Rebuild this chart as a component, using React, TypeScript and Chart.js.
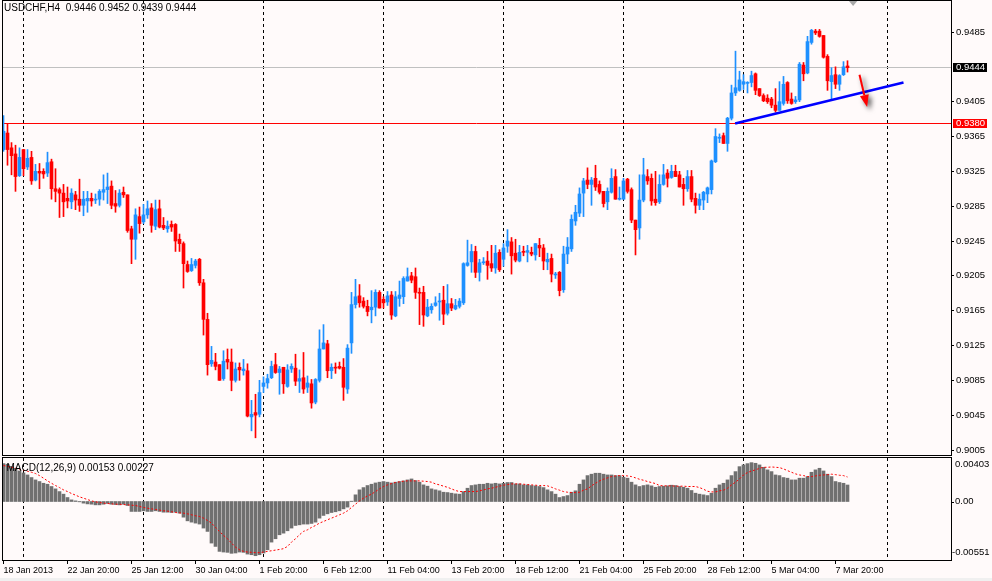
import React, { useEffect, useRef } from 'react';
import { Chart, registerables } from 'chart.js';

Chart.register(...registerables);

// ---------- data ----------
const SYMBOL = 'USDCHF';
const PERIOD = 'H4';

const opens = [
  0.9350, 0.9369, 0.9352, 0.9345, 0.9320, 0.9350, 0.9330, 0.9341, 0.9315, 0.9325,
  0.9325, 0.9323, 0.9336, 0.9305, 0.9304, 0.9300, 0.9294, 0.9290, 0.9298, 0.9293,
  0.9286, 0.9291, 0.9294, 0.9292, 0.9293, 0.9301, 0.9304, 0.9308, 0.9288, 0.9286,
  0.9301, 0.9298, 0.9259, 0.9247, 0.9273, 0.9267, 0.9275, 0.9283, 0.9262, 0.9282,
  0.9263, 0.9259, 0.9264, 0.9264, 0.9247, 0.9242, 0.9218, 0.9211, 0.9217, 0.9224,
  0.9197, 0.9155, 0.9104, 0.9106, 0.9103, 0.9087, 0.9109, 0.9106, 0.9085, 0.9100,
  0.9096, 0.9096, 0.9043, 0.9048, 0.9046, 0.9078, 0.9082, 0.9088, 0.9103, 0.9094,
  0.9100, 0.9078, 0.9098, 0.9099, 0.9084, 0.9088, 0.9077, 0.9081, 0.9060, 0.9085,
  0.9121, 0.9127, 0.9096, 0.9100, 0.9101, 0.9100, 0.9075, 0.9128, 0.9172, 0.9182,
  0.9176, 0.9170, 0.9166, 0.9169, 0.9186, 0.9178, 0.9175, 0.9183, 0.9159, 0.9179,
  0.9181, 0.9199, 0.9205, 0.9204, 0.9186, 0.9186, 0.9159, 0.9166, 0.9171, 0.9175,
  0.9177, 0.9162, 0.9173, 0.9167, 0.9170, 0.9174, 0.9217, 0.9221, 0.9233, 0.9209,
  0.9220, 0.9222, 0.9219, 0.9214, 0.9232, 0.9224, 0.9239, 0.9244, 0.9231, 0.9222,
  0.9233, 0.9232, 0.9232, 0.9229, 0.9240, 0.9237, 0.9221, 0.9225, 0.9206, 0.9209,
  0.9189, 0.9230, 0.9236, 0.9268, 0.9277, 0.9300, 0.9315, 0.9310, 0.9317, 0.9310,
  0.9302, 0.9290, 0.9301, 0.9319, 0.9293, 0.9293, 0.9316, 0.9304, 0.9269, 0.9260,
  0.9292, 0.9319, 0.9317, 0.9293, 0.9290, 0.9310, 0.9323, 0.9318, 0.9325, 0.9321,
  0.9310, 0.9305, 0.9319, 0.9294, 0.9286, 0.9292, 0.9299, 0.9304, 0.9336, 0.9363,
  0.9366, 0.9357, 0.9386, 0.9415, 0.9418, 0.9425, 0.9426, 0.9427, 0.9437, 0.9420,
  0.9412, 0.9409, 0.9408, 0.9401, 0.9395, 0.9403, 0.9427, 0.9408, 0.9405, 0.9407,
  0.9447, 0.9438, 0.9473, 0.9486, 0.9486, 0.9481, 0.9457, 0.9428, 0.9436, 0.9425,
  0.9436, 0.9446,
];

const highs = [
  0.9389, 0.9380, 0.9358, 0.9355, 0.9352, 0.9350, 0.9350, 0.9348, 0.9333, 0.9334,
  0.9328, 0.9347, 0.9339, 0.9328, 0.9306, 0.9310, 0.9307, 0.9305, 0.9302, 0.9316,
  0.9302, 0.9302, 0.9300, 0.9299, 0.9304, 0.9321, 0.9323, 0.9314, 0.9303, 0.9304,
  0.9307, 0.9298, 0.9262, 0.9282, 0.9284, 0.9287, 0.9291, 0.9288, 0.9292, 0.9292,
  0.9272, 0.9268, 0.9268, 0.9265, 0.9253, 0.9244, 0.9222, 0.9225, 0.9224, 0.9225,
  0.9201, 0.9162, 0.9124, 0.9116, 0.9103, 0.9119, 0.9121, 0.9121, 0.9105, 0.9105,
  0.9109, 0.9104, 0.9062, 0.9069, 0.9085, 0.9089, 0.9092, 0.9107, 0.9116, 0.9101,
  0.9100, 0.9103, 0.9104, 0.9115, 0.9097, 0.9117, 0.9090, 0.9086, 0.9087, 0.9143,
  0.9149, 0.9131, 0.9104, 0.9105, 0.9106, 0.9110, 0.9126, 0.9186, 0.9201, 0.9195,
  0.9180, 0.9177, 0.9188, 0.9189, 0.9188, 0.9181, 0.9187, 0.9187, 0.9187, 0.9199,
  0.9204, 0.9214, 0.9209, 0.9214, 0.9191, 0.9193, 0.9178, 0.9173, 0.9181, 0.9185,
  0.9193, 0.9195, 0.9179, 0.9178, 0.9179, 0.9220, 0.9246, 0.9241, 0.9239, 0.9224,
  0.9226, 0.9233, 0.9240, 0.9240, 0.9235, 0.9242, 0.9258, 0.9249, 0.9247, 0.9240,
  0.9239, 0.9240, 0.9238, 0.9242, 0.9248, 0.9241, 0.9231, 0.9230, 0.9209, 0.9210,
  0.9239, 0.9249, 0.9275, 0.9286, 0.9306, 0.9317, 0.9329, 0.9318, 0.9332, 0.9314,
  0.9302, 0.9306, 0.9328, 0.9327, 0.9307, 0.9317, 0.9317, 0.9306, 0.9269, 0.9321,
  0.9340, 0.9327, 0.9322, 0.9325, 0.9321, 0.9333, 0.9327, 0.9332, 0.9332, 0.9325,
  0.9317, 0.9326, 0.9326, 0.9300, 0.9299, 0.9302, 0.9307, 0.9338, 0.9374, 0.9368,
  0.9369, 0.9387, 0.9424, 0.9463, 0.9440, 0.9436, 0.9428, 0.9440, 0.9438, 0.9420,
  0.9414, 0.9413, 0.9410, 0.9420, 0.9428, 0.9434, 0.9428, 0.9415, 0.9411, 0.9450,
  0.9450, 0.9480, 0.9488, 0.9488, 0.9488, 0.9481, 0.9459, 0.9444, 0.9445, 0.9436,
  0.9451, 0.9452,
];

const lows = [
  0.9348, 0.9332, 0.9321, 0.9302, 0.9319, 0.9320, 0.9327, 0.9310, 0.9314, 0.9305,
  0.9317, 0.9319, 0.9293, 0.9290, 0.9272, 0.9273, 0.9283, 0.9282, 0.9281, 0.9279,
  0.9274, 0.9278, 0.9285, 0.9288, 0.9286, 0.9292, 0.9288, 0.9282, 0.9278, 0.9284,
  0.9295, 0.9255, 0.9219, 0.9224, 0.9254, 0.9265, 0.9271, 0.9255, 0.9258, 0.9260,
  0.9258, 0.9255, 0.9256, 0.9233, 0.9233, 0.9191, 0.9209, 0.9210, 0.9214, 0.9194,
  0.9137, 0.9091, 0.9101, 0.9097, 0.9085, 0.9085, 0.9098, 0.9073, 0.9083, 0.9085,
  0.9091, 0.9043, 0.9027, 0.9019, 0.9043, 0.9071, 0.9076, 0.9087, 0.9093, 0.9069,
  0.9070, 0.9077, 0.9094, 0.9079, 0.9071, 0.9070, 0.9071, 0.9053, 0.9058, 0.9083,
  0.9121, 0.9088, 0.9087, 0.9093, 0.9098, 0.9062, 0.9070, 0.9116, 0.9168, 0.9169,
  0.9168, 0.9159, 0.9151, 0.9159, 0.9168, 0.9168, 0.9171, 0.9155, 0.9158, 0.9170,
  0.9173, 0.9199, 0.9197, 0.9179, 0.9149, 0.9147, 0.9158, 0.9162, 0.9170, 0.9154,
  0.9149, 0.9160, 0.9165, 0.9166, 0.9168, 0.9172, 0.9216, 0.9209, 0.9203, 0.9199,
  0.9218, 0.9201, 0.9210, 0.9208, 0.9210, 0.9216, 0.9232, 0.9207, 0.9221, 0.9221,
  0.9228, 0.9221, 0.9228, 0.9223, 0.9227, 0.9212, 0.9212, 0.9198, 0.9202, 0.9182,
  0.9186, 0.9219, 0.9233, 0.9263, 0.9273, 0.9273, 0.9305, 0.9286, 0.9303, 0.9299,
  0.9284, 0.9281, 0.9300, 0.9293, 0.9292, 0.9293, 0.9300, 0.9266, 0.9229, 0.9247,
  0.9290, 0.9310, 0.9286, 0.9286, 0.9288, 0.9309, 0.9307, 0.9317, 0.9319, 0.9307,
  0.9286, 0.9302, 0.9290, 0.9277, 0.9281, 0.9281, 0.9289, 0.9299, 0.9335, 0.9358,
  0.9357, 0.9348, 0.9384, 0.9412, 0.9417, 0.9419, 0.9415, 0.9422, 0.9413, 0.9411,
  0.9405, 0.9403, 0.9398, 0.9393, 0.9395, 0.9401, 0.9403, 0.9402, 0.9403, 0.9405,
  0.9429, 0.9437, 0.9471, 0.9482, 0.9479, 0.9455, 0.9418, 0.9407, 0.9420, 0.9418,
  0.9435, 0.9439,
];

const closes = [
  0.9371, 0.9350, 0.9343, 0.9319, 0.9341, 0.9328, 0.9340, 0.9314, 0.9325, 0.9323,
  0.9322, 0.9335, 0.9305, 0.9302, 0.9300, 0.9290, 0.9291, 0.9300, 0.9292, 0.9286,
  0.9293, 0.9294, 0.9291, 0.9293, 0.9302, 0.9304, 0.9307, 0.9286, 0.9285, 0.9300,
  0.9298, 0.9257, 0.9247, 0.9275, 0.9265, 0.9275, 0.9282, 0.9263, 0.9281, 0.9261,
  0.9260, 0.9262, 0.9261, 0.9245, 0.9242, 0.9219, 0.9210, 0.9218, 0.9222, 0.9197,
  0.9155, 0.9103, 0.9108, 0.9101, 0.9085, 0.9107, 0.9106, 0.9085, 0.9098, 0.9097,
  0.9098, 0.9044, 0.9046, 0.9045, 0.9071, 0.9082, 0.9087, 0.9101, 0.9094, 0.9098,
  0.9081, 0.9097, 0.9101, 0.9084, 0.9087, 0.9075, 0.9082, 0.9059, 0.9086, 0.9121,
  0.9128, 0.9096, 0.9100, 0.9099, 0.9099, 0.9077, 0.9122, 0.9172, 0.9181, 0.9174,
  0.9170, 0.9164, 0.9169, 0.9186, 0.9168, 0.9174, 0.9182, 0.9160, 0.9181, 0.9183,
  0.9202, 0.9204, 0.9200, 0.9186, 0.9185, 0.9160, 0.9169, 0.9170, 0.9174, 0.9176,
  0.9161, 0.9173, 0.9168, 0.9171, 0.9176, 0.9219, 0.9220, 0.9233, 0.9209, 0.9220,
  0.9221, 0.9217, 0.9214, 0.9231, 0.9212, 0.9237, 0.9245, 0.9228, 0.9223, 0.9232,
  0.9232, 0.9234, 0.9230, 0.9242, 0.9237, 0.9222, 0.9224, 0.9207, 0.9207, 0.9188,
  0.9230, 0.9238, 0.9270, 0.9278, 0.9299, 0.9314, 0.9310, 0.9315, 0.9307, 0.9301,
  0.9288, 0.9302, 0.9317, 0.9293, 0.9294, 0.9314, 0.9302, 0.9269, 0.9258, 0.9292,
  0.9321, 0.9314, 0.9291, 0.9289, 0.9310, 0.9321, 0.9317, 0.9325, 0.9319, 0.9307,
  0.9305, 0.9319, 0.9293, 0.9286, 0.9293, 0.9301, 0.9306, 0.9337, 0.9365, 0.9364,
  0.9357, 0.9386, 0.9415, 0.9421, 0.9430, 0.9428, 0.9427, 0.9435, 0.9418, 0.9412,
  0.9406, 0.9405, 0.9401, 0.9395, 0.9405, 0.9425, 0.9406, 0.9403, 0.9407, 0.9448,
  0.9437, 0.9474, 0.9487, 0.9484, 0.9480, 0.9456, 0.9429, 0.9435, 0.9425, 0.9435,
  0.9445, 0.9444,
];

const macdHist = [
  0.00351, 0.00345, 0.00326, 0.00308, 0.00283, 0.00265, 0.00246, 0.00222, 0.00200, 0.00185,
  0.00169, 0.00160, 0.00139, 0.00117, 0.00092, 0.00068, 0.00037, 0.00015, 0.00006, -0.00003,
  -0.00015, -0.00022, -0.00025, -0.00031, -0.00031, -0.00025, -0.00018, -0.00025, -0.00028, -0.00031,
  -0.00025, -0.00037, -0.00092, -0.00092, -0.00092, -0.00086, -0.00092, -0.00092, -0.00086, -0.00092,
  -0.00099, -0.00099, -0.00102, -0.00099, -0.00108, -0.00145, -0.00179, -0.00191, -0.00200, -0.00209,
  -0.00246, -0.00277, -0.00385, -0.00416, -0.00462, -0.00468, -0.00471, -0.00480, -0.00477, -0.00468,
  -0.00471, -0.00487, -0.00493, -0.00502, -0.00493, -0.00477, -0.00447, -0.00376, -0.00345, -0.00308,
  -0.00293, -0.00271, -0.00246, -0.00222, -0.00216, -0.00209, -0.00209, -0.00203, -0.00191, -0.00154,
  -0.00129, -0.00114, -0.00102, -0.00095, -0.00086, -0.00068, -0.00052, 0.00003, 0.00062, 0.00108,
  0.00129, 0.00148, 0.00160, 0.00172, 0.00179, 0.00185, 0.00179, 0.00172, 0.00179, 0.00185,
  0.00191, 0.00200, 0.00209, 0.00194, 0.00179, 0.00154, 0.00142, 0.00117, 0.00108, 0.00099,
  0.00086, 0.00083, 0.00077, 0.00071, 0.00068, 0.00092, 0.00123, 0.00148, 0.00154, 0.00160,
  0.00160, 0.00169, 0.00163, 0.00169, 0.00163, 0.00169, 0.00176, 0.00176, 0.00163, 0.00163,
  0.00154, 0.00154, 0.00148, 0.00145, 0.00139, 0.00129, 0.00108, 0.00092, 0.00068, 0.00037,
  0.00046, 0.00055, 0.00086, 0.00099, 0.00160, 0.00200, 0.00240, 0.00253, 0.00262, 0.00262,
  0.00253, 0.00246, 0.00246, 0.00240, 0.00240, 0.00225, 0.00216, 0.00179, 0.00154, 0.00139,
  0.00148, 0.00154, 0.00145, 0.00132, 0.00139, 0.00142, 0.00145, 0.00151, 0.00148, 0.00139,
  0.00132, 0.00123, 0.00102, 0.00077, 0.00068, 0.00062, 0.00055, 0.00077, 0.00123, 0.00154,
  0.00169, 0.00200, 0.00240, 0.00277, 0.00323, 0.00339, 0.00351, 0.00360, 0.00354, 0.00339,
  0.00317, 0.00293, 0.00277, 0.00246, 0.00240, 0.00222, 0.00216, 0.00200, 0.00200, 0.00216,
  0.00216, 0.00231, 0.00271, 0.00293, 0.00308, 0.00283, 0.00253, 0.00231, 0.00185, 0.00176,
  0.00169, 0.00153,
];

const macdSignal = [
  0.00333, 0.00326, 0.00317, 0.00308, 0.00299, 0.00290, 0.00280, 0.00271, 0.00259, 0.00240,
  0.00216, 0.00191, 0.00169, 0.00148, 0.00129, 0.00108, 0.00092, 0.00074, 0.00059, 0.00043,
  0.00031, 0.00018, 0.00006, -0.00003, -0.00009, -0.00015, -0.00018, -0.00022, -0.00025, -0.00025,
  -0.00028, -0.00031, -0.00034, -0.00037, -0.00046, -0.00055, -0.00062, -0.00068, -0.00074, -0.00080,
  -0.00086, -0.00089, -0.00095, -0.00102, -0.00105, -0.00108, -0.00114, -0.00123, -0.00132, -0.00139,
  -0.00154, -0.00176, -0.00200, -0.00240, -0.00277, -0.00314, -0.00345, -0.00385, -0.00422, -0.00447,
  -0.00462, -0.00468, -0.00471, -0.00474, -0.00474, -0.00468, -0.00462, -0.00456, -0.00450, -0.00444,
  -0.00437, -0.00416, -0.00376, -0.00345, -0.00308, -0.00277, -0.00262, -0.00240, -0.00222, -0.00200,
  -0.00185, -0.00169, -0.00154, -0.00139, -0.00123, -0.00108, -0.00086, -0.00055, -0.00025, 0.00006,
  0.00031, 0.00052, 0.00068, 0.00092, 0.00117, 0.00139, 0.00154, 0.00166, 0.00176, 0.00182,
  0.00188, 0.00191, 0.00191, 0.00191, 0.00191, 0.00188, 0.00185, 0.00179, 0.00163, 0.00154,
  0.00142, 0.00132, 0.00117, 0.00102, 0.00092, 0.00092, 0.00092, 0.00092, 0.00092, 0.00099,
  0.00108, 0.00117, 0.00123, 0.00132, 0.00142, 0.00151, 0.00157, 0.00163, 0.00163, 0.00163,
  0.00160, 0.00157, 0.00154, 0.00151, 0.00148, 0.00148, 0.00145, 0.00132, 0.00117, 0.00105,
  0.00092, 0.00086, 0.00083, 0.00083, 0.00086, 0.00105, 0.00117, 0.00145, 0.00169, 0.00191,
  0.00206, 0.00219, 0.00231, 0.00237, 0.00240, 0.00240, 0.00237, 0.00231, 0.00219, 0.00206,
  0.00197, 0.00185, 0.00176, 0.00166, 0.00148, 0.00145, 0.00145, 0.00145, 0.00142, 0.00142,
  0.00142, 0.00139, 0.00139, 0.00139, 0.00129, 0.00114, 0.00095, 0.00089, 0.00089, 0.00099,
  0.00105, 0.00123, 0.00154, 0.00179, 0.00209, 0.00246, 0.00268, 0.00283, 0.00293, 0.00308,
  0.00317, 0.00317, 0.00320, 0.00317, 0.00314, 0.00302, 0.00286, 0.00271, 0.00256, 0.00246,
  0.00240, 0.00231, 0.00231, 0.00237, 0.00243, 0.00246, 0.00249, 0.00253, 0.00249, 0.00243,
  0.00240, 0.00227,
];

const priceTicks = [0.9005, 0.9045, 0.9085, 0.9125, 0.9165, 0.9205, 0.9245, 0.9285, 0.9325, 0.9365, 0.9405, 0.9485];
const macdTicks = [0.00403, 0, -0.00551];
const dateTickIdx = [0, 16, 32, 48, 64, 80, 96, 112, 128, 144, 160, 176, 192, 208];
const dateLabels = [
  '18 Jan 2013', '22 Jan 20:00', '25 Jan 12:00', '30 Jan 04:00', '1 Feb 20:00', '6 Feb 12:00', '11 Feb 04:00',
  '13 Feb 20:00', '18 Feb 12:00', '21 Feb 04:00', '25 Feb 20:00', '28 Feb 12:00', '5 Mar 04:00', '7 Mar 20:00',
];
const gridIdx = [5, 35, 65, 95, 125, 155, 185, 221];
const currentPrice = 0.9444;
const levelPrice = 0.9380;
const trendIdx = [182.9, 225.0];
const trendPrice = [0.9380, 0.9427];
const arrowIdx = [214.0, 215.9];
const arrowPrice = [0.9436, 0.9399];
const shiftMarkIdx = 212.4;

// ---------- layout / style ----------
const BG = '#fffafa';
const UP = '#1e90ff';
const DOWN = '#ff0000';
const HIST = '#707070';
const FONT = '"Liberation Sans", Arial, sans-serif';
const X_MIN = -0.375;
const X_MAX = 236.875;
const PRICE_MIN = 0.899811;
const PRICE_MAX = 0.952175;
const MACD_MIN = -0.00551;
const MACD_MAX = 0.00403;
const AXIS_W = 41;

const idx = opens.map((_, i) => i);
const candleColors = closes.map((c, i) => (c >= opens[i] ? UP : DOWN));

function drawDashedGrid(chart: any) {
  const { ctx, chartArea: a, scales } = chart;
  const x = scales.x;
  ctx.save();
  ctx.strokeStyle = '#000';
  ctx.lineWidth = 1;
  ctx.setLineDash([3, 3]);
  gridIdx.forEach((k) => {
    const px = Math.round(x.getPixelForValue(k) - 0.5) + 0.5;
    ctx.beginPath();
    ctx.moveTo(px, a.top);
    ctx.lineTo(px, a.bottom);
    ctx.stroke();
  });
  ctx.restore();
}

const pricePlugin = {
  id: 'pricePanel',
  beforeDatasetsDraw(chart: any) {
    const { ctx, chartArea: a, scales } = chart;
    const y = scales.y;
    drawDashedGrid(chart);
    // horizontal price lines (crisp)
    ctx.save();
    ctx.lineWidth = 1;
    const hline = (v: number, color: string) => {
      const py = Math.round(y.getPixelForValue(v) - 0.5) + 0.5;
      ctx.strokeStyle = color;
      ctx.beginPath();
      ctx.moveTo(a.left, py);
      ctx.lineTo(a.right, py);
      ctx.stroke();
    };
    hline(currentPrice, '#c0c0c0');
    hline(levelPrice, '#ff0000');
    ctx.restore();
  },
  afterDraw(chart: any) {
    const { ctx, chartArea: a, scales } = chart;
    const x = scales.x;
    const y = scales.y;
    ctx.save();

    // red arrow with shadow
    const x1 = x.getPixelForValue(arrowIdx[0]);
    const y1 = y.getPixelForValue(arrowPrice[0]);
    const x2 = x.getPixelForValue(arrowIdx[1]);
    const y2 = y.getPixelForValue(arrowPrice[1]);
    const ang = Math.atan2(y2 - y1, x2 - x1);
    const cos = Math.cos(ang);
    const sin = Math.sin(ang);
    const headLen = 12;
    const headW = 4.5;
    const bx = x2 - headLen * cos;
    const by = y2 - headLen * sin;
    ctx.shadowColor = 'rgba(0,0,0,0.65)';
    ctx.shadowBlur = 5;
    ctx.shadowOffsetX = 3;
    ctx.shadowOffsetY = 3;
    ctx.strokeStyle = '#ff0000';
    ctx.fillStyle = '#ff0000';
    ctx.lineWidth = 2;
    ctx.beginPath();
    ctx.moveTo(x1, y1);
    ctx.lineTo(bx, by);
    ctx.stroke();
    ctx.beginPath();
    ctx.moveTo(x2, y2);
    ctx.lineTo(bx - headW * sin, by + headW * cos);
    ctx.lineTo(bx + headW * sin, by - headW * cos);
    ctx.closePath();
    ctx.fill();
    ctx.shadowColor = 'transparent';
    ctx.shadowBlur = 0;
    ctx.shadowOffsetX = 0;
    ctx.shadowOffsetY = 0;

    // price tags
    ctx.font = `9.5px ${FONT}`;
    ctx.textBaseline = 'middle';
    ctx.textAlign = 'left';
    const tag = (v: number, bg: string) => {
      const py = Math.round(y.getPixelForValue(v) - 0.5) + 0.5;
      ctx.fillStyle = bg;
      ctx.fillRect(a.right + 2, Math.round(py) - 5, 34, 9);
      ctx.fillStyle = '#ffffff';
      ctx.fillText(v.toFixed(4), a.right + 5, py);
    };
    tag(currentPrice, '#000000');
    tag(levelPrice, '#ff0000');

    // chart shift marker
    const sx = x.getPixelForValue(shiftMarkIdx);
    ctx.fillStyle = '#a8a8a8';
    ctx.beginPath();
    ctx.moveTo(sx - 5, a.top);
    ctx.lineTo(sx + 5, a.top);
    ctx.lineTo(sx, a.top + 6);
    ctx.closePath();
    ctx.fill();

    // frame
    ctx.strokeStyle = '#000';
    ctx.lineWidth = 1;
    ctx.setLineDash([]);
    ctx.strokeRect(a.left + 0.5, a.top + 0.5, a.right - a.left, a.bottom - a.top - 1);

    // header
    const n = closes.length - 1;
    ctx.fillStyle = '#000';
    ctx.font = `10px ${FONT}`;
    ctx.textBaseline = 'alphabetic';
    ctx.fillText(
      `${SYMBOL},${PERIOD}  ${opens[n].toFixed(4)} ${highs[n].toFixed(4)} ${lows[n].toFixed(4)} ${closes[n].toFixed(4)}`,
      4,
      11
    );
    ctx.restore();
  },
};

const macdPlugin = {
  id: 'macdPanel',
  beforeDatasetsDraw(chart: any) {
    drawDashedGrid(chart);
  },
  afterDraw(chart: any) {
    const { ctx, chartArea: a, scales } = chart;
    const y = scales.y;
    ctx.save();
    ctx.strokeStyle = '#000';
    ctx.lineWidth = 1;
    ctx.setLineDash([]);
    ctx.strokeRect(a.left + 0.5, a.top - 0.5, a.right - a.left, a.bottom - a.top);

    ctx.fillStyle = '#000';
    ctx.font = `9.5px ${FONT}`;
    ctx.textBaseline = 'middle';
    ctx.textAlign = 'left';
    macdTicks.forEach((v) => {
      const raw = y.getPixelForValue(v);
      const py = Math.min(Math.max(raw, a.top + 6), a.bottom - 9);
      const label = v === 0 ? '0.00' : v.toFixed(5);
      ctx.fillText(label, a.right + 4 - (v < 0 ? 3 : 0), py);
      if (v === 0) {
        ctx.beginPath();
        ctx.moveTo(a.right, Math.round(py) + 0.5);
        ctx.lineTo(a.right + 3, Math.round(py) + 0.5);
        ctx.stroke();
      }
    });

    const n = macdHist.length - 1;
    ctx.font = `10px ${FONT}`;
    ctx.textBaseline = 'alphabetic';
    ctx.fillText(`MACD(12,26,9) ${macdHist[n].toFixed(5)} ${macdSignal[n].toFixed(5)}`, 6.5, 15);
    ctx.restore();
  },
};

function xScale(display: boolean): any {
  return {
    type: 'linear',
    min: X_MIN,
    max: X_MAX,
    offset: false,
    bounds: 'ticks',
    display,
    position: 'bottom',
    afterBuildTicks: (s: any) => {
      s.ticks = dateTickIdx.map((v) => ({ value: v }));
    },
    afterFit: (s: any) => {
      s.height = display ? 20 : 0;
      s.paddingLeft = 0;
      s.paddingRight = 0;
    },
    ticks: {
      autoSkip: false,
      maxRotation: 0,
      minRotation: 0,
      align: 'start',
      padding: 1,
      color: '#000',
      font: { family: FONT, size: 9 },
      callback: (_v: any, i: number) => dateLabels[i],
    },
    grid: { offset: false, drawOnChartArea: false, drawTicks: true, tickLength: 3, color: '#000' },
    border: { display: false },
  };
}

export default function App() {
  const priceRef = useRef<HTMLCanvasElement>(null);
  const macdRef = useRef<HTMLCanvasElement>(null);

  useEffect(() => {
    const priceChart = new Chart(priceRef.current as HTMLCanvasElement, {
      type: 'bar',
      data: {
        datasets: [
          {
            type: 'bar',
            label: 'body',
            data: idx.map((i) => ({ x: i, y: [opens[i], closes[i]] })),
            backgroundColor: candleColors,
            borderWidth: 0,
            grouped: false,
            barPercentage: 1,
            categoryPercentage: 1,
            maxBarThickness: 3,
            minBarLength: 1,
            order: 1,
          },
          {
            type: 'bar',
            label: 'wick',
            data: idx.map((i) => ({ x: i, y: [lows[i], highs[i]] })),
            backgroundColor: candleColors,
            borderWidth: 0,
            grouped: false,
            barPercentage: 1,
            categoryPercentage: 1,
            maxBarThickness: 1,
            minBarLength: 1,
            order: 2,
          },
          {
            type: 'line',
            label: 'trend',
            data: trendIdx.map((k, i) => ({ x: k, y: trendPrice[i] })),
            borderColor: '#0000ff',
            borderWidth: 2.6,
            pointRadius: 0,
            order: 0,
          },
        ] as any,
      },
      options: {
        animation: false,
        responsive: false,
        events: [],
        layout: { padding: { left: 2, top: 0, right: 0, bottom: 0 } },
        plugins: { legend: { display: false }, tooltip: { enabled: false } },
        scales: {
          x: xScale(false),
          y: {
            type: 'linear',
            position: 'right',
            min: PRICE_MIN,
            max: PRICE_MAX,
            afterBuildTicks: (s: any) => {
              s.ticks = priceTicks.map((v) => ({ value: v }));
            },
            afterFit: (s: any) => {
              s.width = AXIS_W;
              s.paddingTop = 0;
              s.paddingBottom = 0;
            },
            ticks: {
              autoSkip: false,
              color: '#000',
              padding: 2,
              font: { family: FONT, size: 9.5 },
              callback: (v: any) => Number(v).toFixed(4),
            },
            grid: { drawOnChartArea: false, drawTicks: true, tickLength: 3, color: '#000' },
            border: { display: false },
          } as any,
        },
      } as any,
      plugins: [pricePlugin],
    });

    const macdChart = new Chart(macdRef.current as HTMLCanvasElement, {
      type: 'bar',
      data: {
        datasets: [
          {
            type: 'line',
            label: 'signal',
            data: idx.map((i) => ({ x: i, y: macdSignal[i] })),
            borderColor: '#ff0000',
            borderWidth: 1,
            borderDash: [2, 2],
            pointRadius: 0,
            order: 0,
          },
          {
            type: 'bar',
            label: 'macd',
            data: idx.map((i) => ({ x: i, y: macdHist[i] })),
            backgroundColor: HIST,
            borderWidth: 0,
            grouped: false,
            barPercentage: 1,
            categoryPercentage: 1,
            maxBarThickness: 3,
            order: 1,
          },
        ] as any,
      },
      options: {
        animation: false,
        responsive: false,
        events: [],
        layout: { padding: { left: 2, top: 2, right: 0, bottom: 0 } },
        plugins: { legend: { display: false }, tooltip: { enabled: false } },
        scales: {
          x: xScale(true),
          y: {
            type: 'linear',
            position: 'right',
            min: MACD_MIN,
            max: MACD_MAX,
            afterFit: (s: any) => {
              s.width = AXIS_W;
              s.paddingTop = 0;
              s.paddingBottom = 0;
            },
            ticks: { display: false },
            grid: { display: false },
            border: { display: false },
          } as any,
        },
      } as any,
      plugins: [macdPlugin],
    });

    return () => {
      priceChart.destroy();
      macdChart.destroy();
    };
  }, []);

  return (
    <div
      style={{
        position: 'absolute',
        left: 0,
        top: 0,
        width: 992,
        height: 581,
        background: BG,
        overflow: 'hidden',
      }}
    >
      <canvas
        ref={priceRef}
        width={992}
        height={456}
        style={{ position: 'absolute', left: 0, top: 0, width: 992, height: 456, display: 'block' }}
      />
      <canvas
        ref={macdRef}
        width={992}
        height={125}
        style={{ position: 'absolute', left: 0, top: 456, width: 992, height: 125, display: 'block' }}
      />
      <div style={{ position: 'absolute', left: 0, top: 578, width: 992, height: 3, background: '#f0f0f0' }} />
    </div>
  );
}
